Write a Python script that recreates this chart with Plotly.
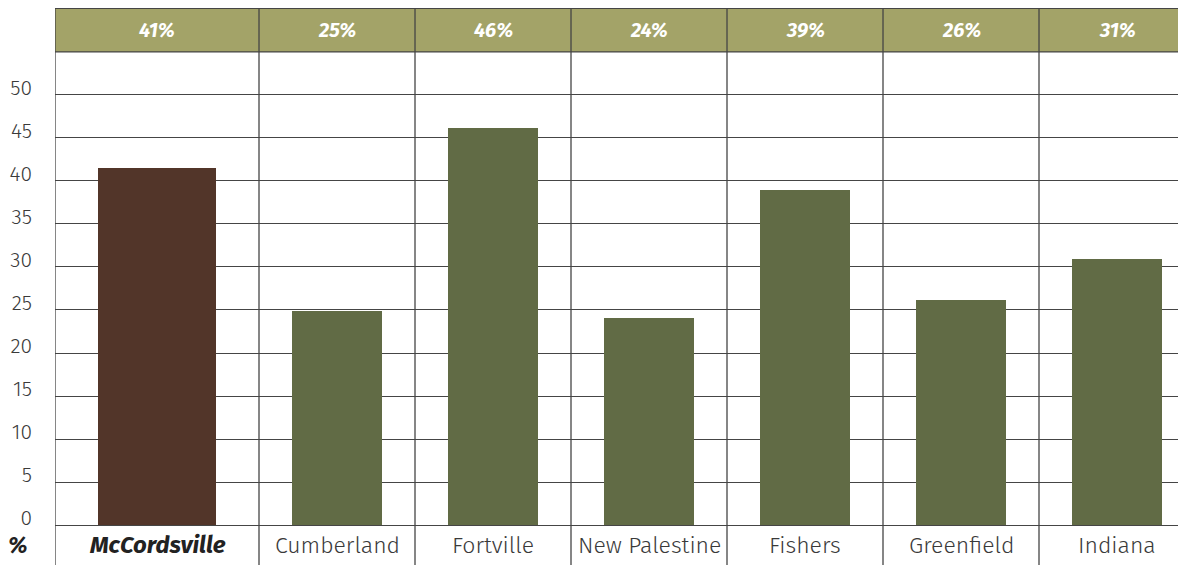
import plotly.graph_objects as go

# ----------------------------
# Data
# ----------------------------
places = ["McCordsville", "Cumberland", "Fortville", "New Palestine",
          "Fishers", "Greenfield", "Indiana"]
values = [41.5, 24.9, 46.2, 24.1, 38.9, 26.2, 30.9]
header_labels = ["41%", "25%", "46%", "24%", "39%", "26%", "31%"]
y_ticks = [0, 5, 10, 15, 20, 25, 30, 35, 40, 45, 50]

# ----------------------------
# Layout constants
# ----------------------------
col_widths = [204, 156, 156, 156, 156, 156, 156]   # first column is wider
bar_frac = 0.58
header_lo, y_top, y_bottom = 55, 60.1, -4.64
x_max = 1131

edges = [0]
for w in col_widths:
    edges.append(edges[-1] + w)
centers = [(edges[i] + edges[i + 1]) / 2 for i in range(len(col_widths))]
widths = [w * bar_frac for w in col_widths]

BROWN = "#523529"
OLIVE = "#616B45"
HEADER = "#A3A368"
LINE = "#454545"
FONT = "Fira Sans, Open Sans, sans-serif"

colors = [BROWN] + [OLIVE] * (len(places) - 1)

fig = go.Figure()
fig.add_trace(go.Bar(x=centers, y=values, width=widths, marker_color=colors,
                     marker_line_width=0, hoverinfo="skip", showlegend=False))

shapes = []
# header band
shapes.append(dict(type="rect", xref="x", yref="y", x0=0, x1=x_max, y0=header_lo, y1=y_top,
                   fillcolor=HEADER, line_width=0, layer="below"))
# horizontal borders of header
for yy in (header_lo, y_top - 0.05):
    shapes.append(dict(type="line", xref="x", yref="y", x0=0, x1=x_max, y0=yy, y1=yy,
                       line=dict(color=LINE, width=1.3)))
# column separators
for e in edges[:-1]:
    shapes.append(dict(type="line", xref="x", yref="paper", x0=e, x1=e, y0=0, y1=1,
                       line=dict(color=LINE, width=1.3), layer="above"))

annotations = []
for c, lab in zip(centers, header_labels):
    annotations.append(dict(x=c, y=(header_lo + y_top) / 2, xref="x", yref="y", text=lab,
                            showarrow=False,
                            font=dict(family=FONT, size=20, color="white", weight="bold",
                                      style="italic")))
for i, (c, name) in enumerate(zip(centers, places)):
    if i == 0:
        f = dict(family=FONT, size=24, color="#222222", weight="bold", style="italic")
    else:
        f = dict(family=FONT, size=23, color="#3a3a3a", weight=300)
    annotations.append(dict(x=c, y=y_bottom / 2, xref="x", yref="y", text=name,
                            showarrow=False, font=f))
# unit label left of the category row
annotations.append(dict(x=-37 / x_max, y=y_bottom / 2, xref="paper", yref="y", text="%",
                        showarrow=False, xanchor="center",
                        font=dict(family=FONT, size=23, color="#222222", weight="bold",
                                  style="italic")))

# the page body has an 8px margin, so the figure is trimmed to fit the window
fig.update_layout(
    width=1178, height=557,
    margin=dict(l=47, r=0, t=0, b=0),
    plot_bgcolor="white", paper_bgcolor="white",
    shapes=shapes, annotations=annotations,
    bargap=0,
    xaxis=dict(range=[0, x_max], showgrid=False, zeroline=False, showticklabels=False,
               fixedrange=True),
    yaxis=dict(range=[y_bottom, y_top], tickvals=y_ticks, showgrid=True,
               gridcolor=LINE, gridwidth=1.3, zeroline=False,
               tickfont=dict(family=FONT, size=21, color="#3a3a3a", weight=300),
               ticklabelstandoff=22, ticklabelshift=-7, fixedrange=True),
)

fig.write_html("out.html")
